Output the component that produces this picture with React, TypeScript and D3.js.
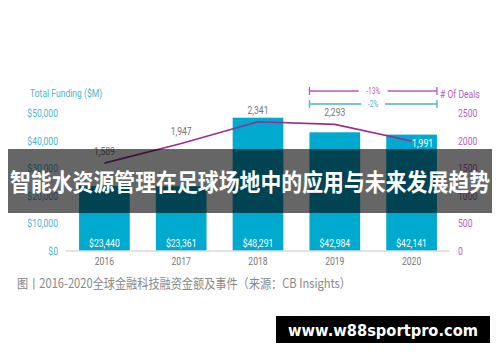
import React, { useEffect, useRef } from 'react';
import * as d3 from 'd3';

const years = ['2016', '2017', '2018', '2019', '2020'];
const funding = [23440, 23361, 48291, 42984, 42141];
const deals = [1589, 1947, 2341, 2293, 1991];
const fundingTicks = [0, 10000, 20000, 30000, 40000, 50000];
const dealTicks = [0, 500, 1000, 1500, 2000, 2500];
const title = '智能水资源管理在足球场地中的应用与未来发展趋势';
const caption = '图丨2016-2020全球金融科技融资金额及事件（来源：CB Insights）';
const watermark = 'www.w88sportpro.com';

// squeeze texts horizontally, the source uses a condensed face
function condense(sel: any, k: number) {
  sel.each(function (this: SVGTextElement) {
    const w = this.getComputedTextLength();
    d3.select(this).attr('textLength', w * k).attr('lengthAdjust', 'spacingAndGlyphs');
  });
}

const App = () => {
  const ref = useRef<SVGSVGElement>(null);

  useEffect(() => {
    const svg = d3.select(ref.current);
    svg.selectAll('*').remove();

    const width = 500;
    const height = 362;

    svg.append('rect').attr('width', width).attr('height', height).attr('fill', '#fff');

    const x = d3.scaleBand().domain(years).range([66, 450]).paddingInner(0.34).paddingOuter(0.17);
    const yL = d3.scaleLinear().domain([0, 50000]).range([250.5, 113]);
    const yR = d3.scaleLinear().domain([0, 2500]).range([250.5, 113]);

    const font = 'Roboto, "Noto Sans", sans-serif';
    const teal = '#4cb4c9';
    const purple = '#b35fb3';
    const k = 0.78;

    // axis titles
    condense(svg.append('text').attr('x', 30).attr('y', 97).attr('font-family', font).attr('font-size', 11)
      .attr('fill', teal).text('Total Funding ($M)'), k);
    condense(svg.append('text').attr('x', 440).attr('y', 98).attr('font-family', font).attr('font-size', 11)
      .attr('fill', purple).text('# Of Deals'), k);

    // left ticks
    condense(svg.append('g').selectAll('text').data(fundingTicks).enter().append('text')
      .attr('x', 58).attr('y', d => yL(d) + 4).attr('text-anchor', 'end')
      .attr('font-family', font).attr('font-size', 11).attr('fill', teal)
      .text(d => '$' + d3.format(',')(d)), k);

    // right ticks
    condense(svg.append('g').selectAll('text').data(dealTicks).enter().append('text')
      .attr('x', 458).attr('y', d => yR(d) + 4)
      .attr('font-family', font).attr('font-size', 11).attr('fill', purple)
      .text(d => String(d)), k);

    // bars
    svg.append('g').selectAll('rect').data(funding).enter().append('rect')
      .attr('x', (_, i) => x(years[i])!).attr('width', x.bandwidth())
      .attr('y', d => yL(d)).attr('height', d => yL(0) - yL(d)).attr('fill', '#00a9ce');

    // baseline
    svg.append('line').attr('x1', 66).attr('x2', 450).attr('y1', 251).attr('y2', 251)
      .attr('stroke', '#c8c8c8').attr('stroke-width', 1.2);

    // bar labels
    condense(svg.append('g').selectAll('text').data(funding).enter().append('text')
      .attr('x', (_, i) => x(years[i])! + x.bandwidth() / 2).attr('y', 247)
      .attr('text-anchor', 'middle').attr('font-family', font).attr('font-size', 11)
      .attr('fill', '#fff').text(d => '$' + d3.format(',')(d)), k);

    // year labels
    condense(svg.append('g').selectAll('text').data(years).enter().append('text')
      .attr('x', d => x(d)! + x.bandwidth() / 2).attr('y', 265)
      .attr('text-anchor', 'middle').attr('font-family', font).attr('font-size', 11)
      .attr('fill', '#777').text(d => d), k);

    // deals line
    const line = d3.line<number>()
      .x((_, i) => x(years[i])! + x.bandwidth() / 2)
      .y(d => yR(d));
    svg.append('path').datum(deals).attr('d', line).attr('fill', 'none')
      .attr('stroke', '#9b2d91').attr('stroke-width', 1.6);

    const dealOffsets = [[0, -8], [0, -8], [0, -8], [0, -8], [11, 6]];
    condense(svg.append('g').selectAll('text').data(deals).enter().append('text')
      .attr('x', (_, i) => x(years[i])! + x.bandwidth() / 2 + dealOffsets[i][0])
      .attr('y', (d, i) => yR(d) + dealOffsets[i][1])
      .attr('text-anchor', 'middle').attr('font-family', font).attr('font-size', 11)
      .attr('fill', (_, i) => (i === 4 ? '#fff' : '#777')).text(d => d3.format(',')(d)), k);

    // brackets
    const bx1 = x('2019')!;
    const bx2 = x('2020')! + x.bandwidth();
    const brackets = [
      { y: 91, label: '-13%', color: purple },
      { y: 104, label: '-2%', color: teal },
    ];
    brackets.forEach(b => {
      const g = svg.append('g');
      const mid = (bx1 + bx2) / 2;
      const gap = b.label.length * 2.6 + 4;
      g.append('line').attr('x1', bx1).attr('x2', mid - gap).attr('y1', b.y).attr('y2', b.y)
        .attr('stroke', b.color).attr('stroke-width', 1.3);
      g.append('line').attr('x1', mid + gap).attr('x2', bx2).attr('y1', b.y).attr('y2', b.y)
        .attr('stroke', b.color).attr('stroke-width', 1.3);
      [bx1, bx2].forEach(px => g.append('line').attr('x1', px).attr('x2', px)
        .attr('y1', b.y - 4).attr('y2', b.y + 4).attr('stroke', b.color).attr('stroke-width', 1.3));
      condense(g.append('text').attr('x', mid).attr('y', b.y + 3).attr('text-anchor', 'middle')
        .attr('font-family', font).attr('font-size', 8.5).attr('fill', b.color).text(b.label), k);
    });

    // caption
    svg.append('text').attr('x', 17).attr('y', 288)
      .attr('font-family', '"Noto Sans CJK SC", "Noto Sans", sans-serif').attr('font-size', 12.6)
      .attr('fill', '#888').attr('textLength', 334).attr('lengthAdjust', 'spacingAndGlyphs').text(caption);

    // title overlay
    svg.append('rect').attr('x', 8).attr('y', 149).attr('width', 484).attr('height', 64)
      .attr('fill', '#000').attr('opacity', 0.6);
    svg.append('text').attr('x', 250).attr('y', 191).attr('text-anchor', 'middle')
      .attr('font-family', '"Noto Sans CJK SC", sans-serif').attr('font-weight', 'bold')
      .attr('font-size', 23.5).attr('fill', '#fff').attr('textLength', 480)
      .attr('lengthAdjust', 'spacingAndGlyphs').text(title);

    // watermark
    svg.append('rect').attr('x', 276).attr('y', 316).attr('width', 214).attr('height', 27).attr('fill', '#000');
    svg.append('text').attr('x', 383).attr('y', 335.5).attr('text-anchor', 'middle')
      .attr('font-family', '"DejaVu Sans", sans-serif').attr('font-weight', 'bold')
      .attr('font-size', 15).attr('fill', '#fff').attr('textLength', 190)
      .attr('lengthAdjust', 'spacingAndGlyphs').text(watermark);
  }, []);

  return (
    <svg ref={ref} width={500} height={362} style={{ position: 'absolute', left: 0, top: 0 }} />
  );
};

export default App;
